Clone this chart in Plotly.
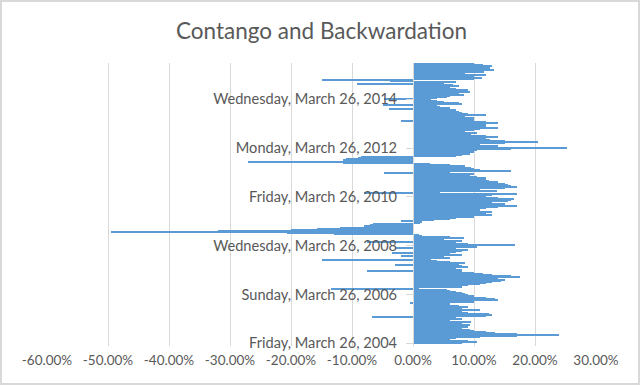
import pandas as pd
import plotly.graph_objects as go

# Contango (+) / backwardation (-) in percent, chronological, ~15-day steps
spread_2004_2006 = [8, 10.5, 9, 6, 5.5, 7, 11, 17, 24, 17, 13.5, 12, 10, 9.4, 8, 7.5, 9, 6.5, 9.4, 8,
                    7.8, 9.5, 6, 5.6, 8, 7, -6.7, 12, 13, 12.5, 9, 8, 7, 11, 8, 7, 9, 7.5, 5, 6,
                    -0.5, 10, 7, 14]
spread_2006_2008 = [13.5, 12, 6, 10, 9, 8.5, 8, 7, 6, 5.5, -13.5, 1, 8, 8, 9, 11, 12, 13, 14.5, 15,
                    12, 14, 17.5, 16, 13, 11.5, 10, 8, -7.5, 8, 7, 4.5, 9, 8, -3, 7.5, 8.5, 6, 4, -15,
                    3, 6, 5, -2, 8, 6, -3.5, 7, 8, 9]
spread_2008_2010 = [7, -3, 10.5, 8, 16.8, 9, 7, -7.5, 8, 5, 3.5, 8.3, 6, 1.5, 1, -13, -20.6, -49.5, -32, -20,
                    -15.7, -12, -7.5, -8, -7, -6.5, 1.2, 1.5, -2, 3.5, 6, 7, 10, 9, 13, 11, 12, 13, 10, 11,
                    10.5, 12, 14, 17, 12, 15, 13, 11]
spread_2010_2012 = [15.5, 16, 16.5, 14, 12, 10, 13, 17, -8, 4.5, 13.8, 11, 9, 15, 17, 16, 15.5, 15, 13.8, 14,
                    12.5, 12, 11.5, 12, 10.5, 8.5, 9.4, 10, -4.8, 6, 16, 11, 10, 9.5, 8, 8.5, 6, 2.8, -11.4, -27,
                    -11.4, -11.4, -11, -9, -8.6, 7, 8, 9.4]
spread_2012_2014 = [7, 10, 9, 10.5, 16, 25.3, 13, 14, 11, 10.5, 15, 20.5, 15, 12.6, 11, 12, 14, 12, 8, 9.5,
                    10.5, 7, 8.5, 10, 11, 14, 12, 11, 12, 9, 14, 12, -2, 10, 9.5, 10, 8.5, 8, 12, 9,
                    8, 7.5, 6, 7, -4, 6, 4.5, 4]
spread_2014_2015 = [-5, 8, 7.5, 5, 4, 3, -4.8, 4, 5.5, 6, 8.3, 7.5, 7, 9.4, 8.5, 9, 7, 5.6, 6, 7.5,
                    6.5, -9.2, 5, 7, -3.7, -15, 10, 11.3, 10, 9.5, 12, 8.5, 7.5, 11.6, 9, 13.2, 11, 12.7, 12, 13,
                    11.5, 10]

start_date = "2004-03-26"
y_tick_dates = ["2004-03-26", "2006-03-26", "2008-03-26", "2010-03-26", "2012-03-26", "2014-03-26"]
y_tick_labels = ["Friday, March 26, 2004", "Sunday, March 26, 2006", "Wednesday, March 26, 2008",
                 "Friday, March 26, 2010", "Monday, March 26, 2012", "Wednesday, March 26, 2014"]
x_tick_vals = [-60, -50, -40, -30, -20, -10, 0, 10, 20, 30]
x_tick_labels = ["-60.00%", "-50.00%", "-40.00%", "-30.00%", "-20.00%", "-10.00%",
                 "0.00%", "10.00%", "20.00%", "30.00%"]

values = (spread_2004_2006 + spread_2006_2008 + spread_2008_2010 +
          spread_2010_2012 + spread_2012_2014 + spread_2014_2015)
dates = pd.date_range(start_date, periods=len(values), freq="15D")

W, H = 640, 385
ML, MR, MT, MB = 47, 44, 63, 39
PW, PH = W - ML - MR, H - MT - MB

FONT = "Lato"
GREY = "#595959"

fig = go.Figure(go.Bar(
    x=values, y=dates, orientation="h",
    marker=dict(color="#5B9BD5", line=dict(width=0)),
))

y0 = dates[0] - pd.Timedelta(days=40)
y1 = dates[-1] + pd.Timedelta(days=10)

fig.update_layout(
    width=W, height=H,
    margin=dict(l=ML, r=MR, t=MT, b=MB),
    paper_bgcolor="white", plot_bgcolor="white",
    bargap=0,
    showlegend=False,
    title=dict(text="Contango and Backwardation", x=0.5, xanchor="center",
               y=1 - 31 / H, yanchor="middle", xref="paper",
               font=dict(family=FONT, size=22.5, color=GREY)),
    xaxis=dict(range=[-60, 30], tickvals=x_tick_vals, ticktext=x_tick_labels,
               showgrid=True, gridcolor="#D9D9D9", gridwidth=1, zeroline=False,
               showline=False, ticks="", ticklabelstandoff=4,
               tickfont=dict(family=FONT, size=13.5, color=GREY),
               fixedrange=True),
    yaxis=dict(type="date", range=[y0, y1], anchor="free", position=60 / 90,
               tickvals=y_tick_dates, ticktext=y_tick_labels,
               showgrid=False, zeroline=False, showline=True, linecolor="#D9D9D9",
               ticks="outside", ticklen=7, tickcolor="#D9D9D9", ticklabelstandoff=6,
               tickfont=dict(family=FONT, size=14.6, color=GREY)),
    shapes=[dict(type="rect", xref="paper", yref="paper",
                 x0=-(ML - 1) / PW, x1=1 + (MR - 1) / PW,
                 y0=-(MB - 1) / PH, y1=1 + (MT - 1) / PH,
                 line=dict(color="#D9D9D9", width=2), fillcolor="rgba(0,0,0,0)", layer="below")],
)

fig.write_html("out.html", config={"displayModeBar": False},
               post_script="document.body.style.margin='0px';")
